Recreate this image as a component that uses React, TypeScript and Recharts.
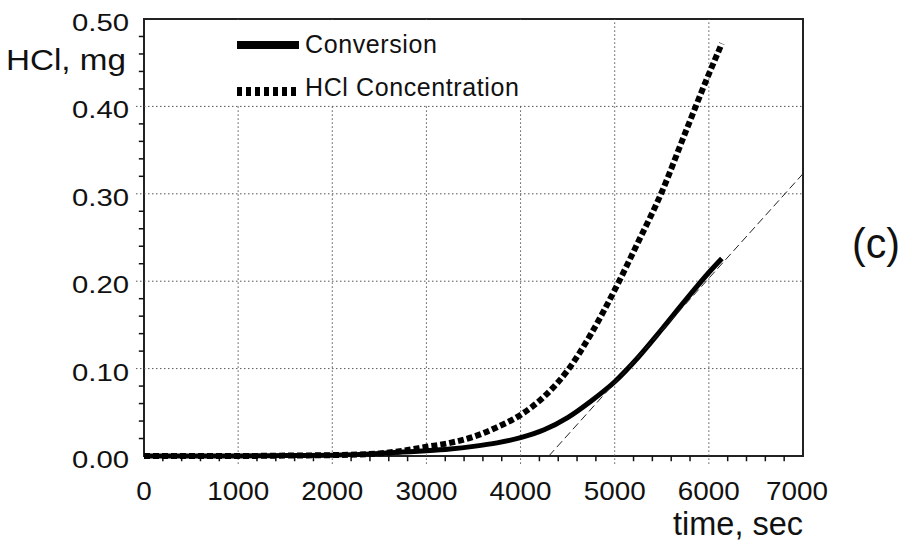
import React from 'react';
import {
  LineChart,
  Line,
  XAxis,
  YAxis,
  ReferenceLine,
  ReferenceArea,
  Legend,
} from 'recharts';

// time axis (sec) and the two measured curves (mg)
const timeSec = [0, 500, 1000, 1500, 2000, 2500, 2750, 3000, 3250, 3500, 3750, 4000, 4250, 4500, 4750, 5000, 5250, 5500, 5750, 6000, 6138];
const conversionMg = [0, 0, 0, 0.0005, 0.001, 0.003, 0.0045, 0.006, 0.008, 0.011, 0.015, 0.021, 0.03, 0.044, 0.063, 0.085, 0.113, 0.145, 0.178, 0.21, 0.226];
const hclMg = [0, 0, 0, 0.0005, 0.001, 0.003, 0.006, 0.0105, 0.015, 0.022, 0.033, 0.047, 0.068, 0.098, 0.14, 0.19, 0.245, 0.302, 0.37, 0.437, 0.472];

// tangent drawn to the conversion curve
const tangentTime = [4300, 7000];
const tangentMg = [0, 0.323];

const xMajorTicks = [0, 1000, 2000, 3000, 4000, 5000, 6000, 7000];
const yMajorTicks = [0, 0.1, 0.2, 0.3, 0.4, 0.5];
const xMinorTicks = Array.from({ length: 36 }, (_, i) => i * 200).filter((v) => v % 1000 !== 0);
const yMinorTicks = Array.from({ length: 26 }, (_, i) => i * 2)
  .filter((v) => v % 10 !== 0)
  .map((v) => v / 100);

const conversionData = timeSec.map((t, i) => ({ t, v: conversionMg[i] }));
const hclData = timeSec.map((t, i) => ({ t, v: hclMg[i] }));
const tangentData = tangentTime.map((t, i) => ({ t, v: tangentMg[i] }));

const FONT = '"Liberation Sans", Arial, sans-serif';
const GRID = '#555';
const INK = '#111';

function XTick(props: any) {
  const { x, y, payload } = props;
  const label = String(payload.value);
  const cx = payload.value === 7000 ? x - 6 : x;
  return (
    <text
      x={cx}
      y={y + 44}
      textAnchor="middle"
      fontFamily={FONT}
      fontSize={25}
      fill={INK}
      textLength={15.5 * label.length}
      lengthAdjust="spacingAndGlyphs"
    >
      {label}
    </text>
  );
}

function YTick(props: any) {
  const { x, y, payload } = props;
  return (
    <text
      x={x - 72}
      y={y + 12}
      fontFamily={FONT}
      fontSize={24}
      fill={INK}
      textLength={57}
      lengthAdjust="spacingAndGlyphs"
    >
      {payload.value.toFixed(2)}
    </text>
  );
}

function LegendBox() {
  const row: React.CSSProperties = {
    position: 'absolute',
    left: 87,
    height: 40,
    display: 'flex',
    alignItems: 'center',
  };
  const txt: React.CSSProperties = { fontSize: 25, marginLeft: 6, color: INK, letterSpacing: 0.6, whiteSpace: 'nowrap' };
  return (
    <div style={{ position: 'relative', width: 380, height: 85, background: '#fff', fontFamily: FONT }}>
      <div style={{ ...row, top: 4 }}>
        <svg width={62} height={10} style={{ marginTop: 2 }}>
          <rect x={0} y={1} width={62} height={8} fill="#000" />
        </svg>
        <span style={txt}>Conversion</span>
      </div>
      <div style={{ ...row, top: 47 }}>
        <svg width={62} height={11} style={{ marginTop: 8 }}>
          <line x1={0} x2={62} y1={5.5} y2={5.5} stroke="#000" strokeWidth={9} strokeDasharray="5 4" />
        </svg>
        <span style={txt}>HCl Concentration</span>
      </div>
    </div>
  );
}

export default function App() {
  return (
    <div style={{ position: 'absolute', left: 0, top: 0, width: 912, height: 547, background: '#fff' }}>
      <LineChart width={912} height={547} margin={{ top: 19, right: 109, bottom: 0, left: 0 }}>
        <XAxis
          type="number"
          dataKey="t"
          domain={[0, 7000]}
          ticks={xMajorTicks}
          interval={0}
          height={91}
          axisLine={false}
          tickLine={false}
          tickSize={0}
          tickMargin={0}
          tick={(p: any) => <XTick {...p} />}
        />
        <YAxis
          type="number"
          domain={[0, 0.5]}
          ticks={yMajorTicks}
          interval={0}
          width={144}
          axisLine={false}
          tickLine={false}
          tickSize={0}
          tickMargin={0}
          tick={(p: any) => <YTick {...p} />}
        />
        {/* dotted grid, running a little past the axes */}
        {xMajorTicks.slice(1, -1).map((v) => (
          <ReferenceLine
            key={'gx' + v}
            segment={[{ x: v, y: -0.009 }, { x: v, y: 0.5 }]}
            ifOverflow="visible"
            stroke={GRID}
            strokeDasharray="1.5 2.5"
          />
        ))}
        {yMajorTicks.slice(1, -1).map((v) => (
          <ReferenceLine
            key={'gy' + v}
            segment={[{ x: -85, y: v }, { x: 7000, y: v }]}
            ifOverflow="visible"
            stroke={GRID}
            strokeDasharray="1.5 2.5"
          />
        ))}
        {/* minor ticks, outside the frame */}
        {xMinorTicks.map((v) => (
          <ReferenceLine
            key={'mx' + v}
            segment={[{ x: v, y: -0.006 }, { x: v, y: 0 }]}
            ifOverflow="visible"
            stroke={INK}
            strokeWidth={1.5}
          />
        ))}
        {yMinorTicks.map((v) => (
          <ReferenceLine
            key={'my' + v}
            segment={[{ x: -55, y: v }, { x: 0, y: v }]}
            ifOverflow="visible"
            stroke={INK}
            strokeWidth={1.5}
          />
        ))}
        <ReferenceArea x1={0} x2={7000} y1={0} y2={0.5} fill="none" stroke="#222" strokeWidth={2} />
        <Legend
          layout="vertical"
          align="center"
          verticalAlign="middle"
          wrapperStyle={{ left: 150, top: 20, width: 380, height: 85 }}
          content={() => <LegendBox />}
        />
        <Line
          data={hclData}
          dataKey="v"
          type="monotone"
          stroke="#000"
          strokeWidth={6}
          strokeDasharray="6 3"
          dot={false}
          isAnimationActive={false}
        />
        <Line
          data={conversionData}
          dataKey="v"
          type="monotone"
          stroke="#000"
          strokeWidth={5}
          dot={false}
          isAnimationActive={false}
        />
        <Line
          data={tangentData}
          dataKey="v"
          type="linear"
          stroke="#222"
          strokeWidth={1}
          strokeDasharray="8 4"
          dot={false}
          isAnimationActive={false}
        />
      </LineChart>
      <svg
        width={912}
        height={547}
        style={{ position: 'absolute', left: 0, top: 0, pointerEvents: 'none' }}
      >
        <text x={6} y={70} fontFamily={FONT} fontSize={30} fill={INK} textLength={120} lengthAdjust="spacingAndGlyphs">
          HCl, mg
        </text>
        <text x={673} y={535} fontFamily={FONT} fontSize={33} fill={INK} textLength={130} lengthAdjust="spacingAndGlyphs">
          time, sec
        </text>
        <text x={852} y={258} fontFamily={FONT} fontSize={42} fill={INK} textLength={48} lengthAdjust="spacingAndGlyphs">
          (c)
        </text>
      </svg>
    </div>
  );
}
